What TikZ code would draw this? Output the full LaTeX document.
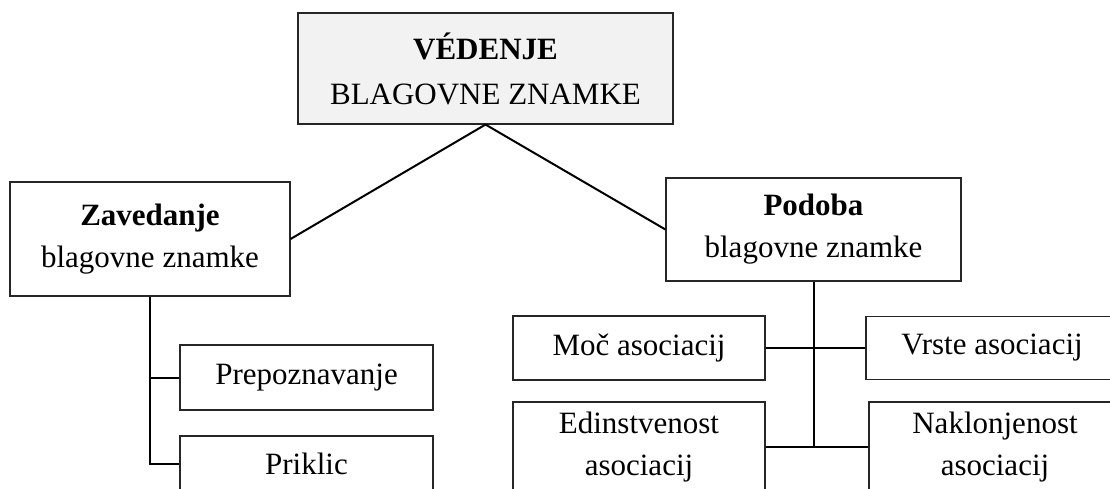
\documentclass[tikz,border=0pt]{standalone}
\usepackage{fontspec}
\setmainfont{Liberation Serif}
\begin{document}
\begin{tikzpicture}[x=1pt,y=-1pt,
  box/.style={draw=black!85,line width=1.1pt,inner sep=0pt,align=center,
    font=\fontsize{31}{42}\selectfont},
  link/.style={draw=black,line width=2pt}]
\useasboundingbox (0,0) rectangle (1110,488);
\clip (0,0) rectangle (1110,488);

% title
\node[box,fill=black!5,minimum width=375pt,minimum height=111pt,
  font=\fontsize{31}{45}\selectfont] (top) at (485.5,68.5)
  {\textbf{VÉDENJE}\\BLAGOVNE ZNAMKE};

% second level
\node[box,minimum width=280pt,minimum height=114pt] (zav) at (150,239)
  {\textbf{Zavedanje}\\blagovne znamke};
\node[box,minimum width=295pt,minimum height=103pt] (pod) at (813.5,229.5)
  {\textbf{Podoba}\\blagovne znamke};

% under Zavedanje
\node[box,minimum width=253pt,minimum height=65pt] (prep) at (306.5,377.5) {Prepoznavanje};
\node[box,minimum width=253pt,minimum height=56pt] (pri) at (306.5,464) {Priklic};

% under Podoba
\node[box,minimum width=252pt,minimum height=64pt] (moc) at (639,348) {Moč asociacij};
\node[box,minimum width=252pt,minimum height=63pt] (vrs) at (992,348) {Vrste asociacij};
\node[box,minimum width=252pt,minimum height=90pt] (edi) at (639,447) {Edinstvenost\\asociacij};
\node[box,minimum width=252pt,minimum height=90pt] (nak) at (995,447) {Naklonjenost\\asociacij};

% connectors
\draw[link] (top.south) -- (zav.east);
\draw[link] (top.south) -- (pod.west);

\coordinate (zj) at (zav.south |- prep.west);
\draw[link] (zav.south) |- (pri.west);
\draw[link] (zj) -- (prep.west);

\coordinate (pj) at (pod.south |- edi.east);
\draw[link] (pod.south) -- (pj);
\draw[link] (moc.east) -- (vrs.west);
\draw[link] (edi.east) -- (nak.west);
\end{tikzpicture}
\end{document}
